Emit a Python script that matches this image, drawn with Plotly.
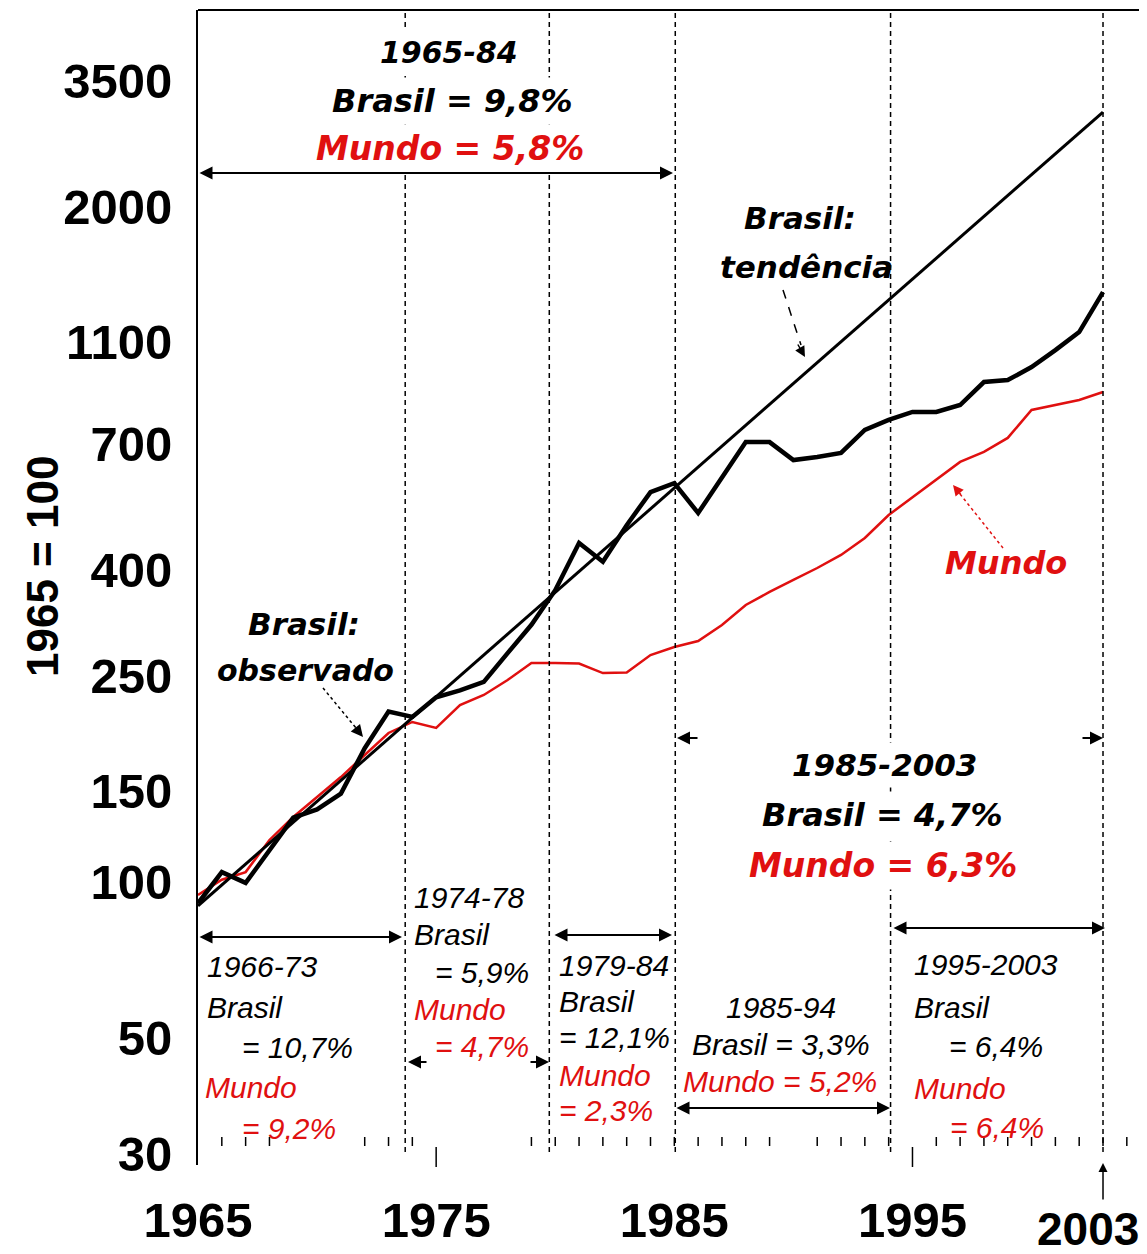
import plotly.graph_objects as go

# ---------------- data ----------------
years = list(range(1965, 2004))
brasil_obs = [91, 104.5, 99.6, 115, 133, 138, 148, 181, 213, 208,
              227, 234, 243, 276, 313, 365, 450, 414, 487, 564,
              587, 514, 600, 704, 704, 650, 659, 671, 743, 777,
              805, 805, 830, 919, 927, 982, 1059, 1147, 1370]
mundo = [94.4, 101, 104.5, 120.5, 133.4, 145.8, 159.3, 175.7, 193.7, 203.4,
         198.1, 219.3, 229.3, 245, 264.2, 264.2, 263.6, 252.7, 253.3, 273.7,
         283.7, 291.3, 312.8, 341.8, 362.2, 381.9, 402.7, 426.7, 460.2, 509.5,
         551.8, 595.2, 644.8, 674, 717.2, 811.8, 830.2, 848.8, 879.4]
trend_years = [1965, 2003]
trend_vals = [90, 3045]

y_ticks = [30, 50, 100, 150, 250, 400, 700, 1100, 2000, 3500]
y_tick_text = ["30", "50", "100", "150", "250", "400", "700", "1100", "2000", "3500"]
x_ticks = [1965, 1975, 1985, 1995]
x_tick_text = ["1965", "1975", "1985", "1995"]

period_bounds = [1973.7, 1979.75, 1985.04, 1994.08, 2003.0]

# ---------------- layout helpers (page pixel -> paper / year) ----------------
PAGE_W, PAGE_H = 1147, 1254
OFF = 8                      # default body margin of the html page
W, H = PAGE_W - OFF, PAGE_H - OFF
L_, R_, T_, B_ = 198, 1147, 10, 1165   # plot area in page pixels
PXYR = 23.816


def XP(p):
    return (p - L_) / (R_ - L_)


def YP(p):
    return (B_ - p) / (B_ - T_)


def YR(p):
    return 1965 + (p - L_) / PXYR


RED = "#e01010"
BIG = "DejaVu Sans"
SMALL = "Liberation Sans"
SM = 30

fig = go.Figure()
fig.add_trace(go.Scatter(x=years, y=mundo, mode="lines",
                         line=dict(color=RED, width=2.5), name="Mundo"))
fig.add_trace(go.Scatter(x=trend_years, y=trend_vals, mode="lines",
                         line=dict(color="black", width=3), name="Brasil: tendência"))
fig.add_trace(go.Scatter(x=years, y=brasil_obs, mode="lines",
                         line=dict(color="black", width=4.5), name="Brasil: observado"))

shapes = []
# top border
shapes.append(dict(type="line", xref="paper", yref="paper", x0=0, x1=1, y0=1, y1=1,
                   line=dict(color="black", width=2)))
# dashed period boundaries
for b in period_bounds:
    shapes.append(dict(type="line", xref="x", yref="paper", x0=b, x1=b,
                       y0=YP(1152), y1=1,
                       line=dict(color="black", width=1.5, dash="5px,4px")))
# minor year ticks
hidden = {1969, 1970, 1971, 1975, 1976, 1977, 1978, 1990, 1995}
for yr in range(1966, 2005):
    if yr in hidden:
        continue
    shapes.append(dict(type="line", xref="x", yref="paper", x0=yr, x1=yr,
                       y0=YP(1146), y1=YP(1137), line=dict(color="black", width=1.5)))
# major ticks
for yr in (1975, 1995):
    p = L_ + PXYR * (yr - 1965)
    shapes.append(dict(type="line", xref="paper", yref="paper", x0=XP(p), x1=XP(p),
                       y0=YP(1167), y1=YP(1147), line=dict(color="black", width=1.5)))
# dashed pointer lines
pointers = [((783, 290), (801, 345), "black", "dash"),
            ((323, 688), (356, 728), "black", "dot"),
            ((1003, 548), (960, 494), RED, "dot")]
for (x0, y0), (x1, y1), c, d in pointers:
    shapes.append(dict(type="line", xref="paper", yref="paper",
                       x0=XP(x0), y0=YP(y0), x1=XP(x1), y1=YP(y1),
                       line=dict(color=c, width=1.5, dash=d)))

ann = []


def text(t, x, y, size, color="black", family=BIG, xanchor="center", bold=True, italic=True,
         angle=0, bg=None):
    s = t
    if italic:
        s = "<i>" + s + "</i>"
    if bold:
        s = "<b>" + s + "</b>"
    d = dict(text=s, xref="paper", yref="paper", x=XP(x), y=YP(y),
             xanchor=xanchor, yanchor="middle", showarrow=False, textangle=angle,
             font=dict(family=family, size=size, color=color))
    if bg:
        d["bgcolor"] = bg
        d["borderpad"] = 4
    ann.append(d)


def darrow(x0, x1, y, w=2):
    ann.append(dict(text="", xref="x", yref="paper", x=YR(x1), y=YP(y),
                    axref="x", ayref="pixel", ax=YR(x0), ay=0,
                    showarrow=True, arrowside="end+start", arrowhead=2, startarrowhead=2,
                    arrowsize=1.3, startarrowsize=1.3, arrowwidth=w, arrowcolor="black"))


def head(xh, yh, xt, yt, color="black", size=1.3, w=2):
    ann.append(dict(text="", xref="paper", yref="paper", x=XP(xh), y=YP(yh),
                    ax=xt - xh, ay=yt - yh, axref="pixel", ayref="pixel",
                    showarrow=True, arrowhead=2, arrowsize=size, arrowwidth=w,
                    arrowcolor=color))


# top block 1965-84
text("1965-84", 449, 52, 30, bg="white")
text("Brasil = 9,8%", 452, 101, 32, bg="white")
text("Mundo = 5,8%", 450, 148, 33, RED, bg="white")
darrow(198, 673, 173)

# trend label
text("Brasil:", 800, 218, 31)
text("tendência", 806, 267, 31)
head(805, 357, 797, 343, "black", 1.4, 1.5)

# observed label
text("Brasil:", 304, 624, 31)
text("observado", 305, 670, 30)
head(363, 737, 354, 726, "black", 1.6, 1.5)

# Mundo label
text("Mundo", 1006, 563, 32, RED)
head(953, 485, 962, 496, RED, 1.4, 1.5)

# 1985-2003 block
text("1985-2003", 884, 765, 31, bg="white")
text("Brasil = 4,7%", 882, 815, 32, bg="white")
text("Mundo = 6,3%", 883, 865, 33, RED, bg="white")
head(677, 738, 699, 738)
head(1103, 738, 1081, 738)

# 1966-73 block
darrow(198, 402, 937)
text("1966-73", 205, 966, SM, family=SMALL, xanchor="left", bold=False)
text("Brasil", 205, 1007, SM, family=SMALL, xanchor="left", bold=False)
text("= 10,7%", 240, 1047, SM, family=SMALL, xanchor="left", bold=False)
text("Mundo", 203, 1087, SM, RED, family=SMALL, xanchor="left", bold=False)
text("= 9,2%", 240, 1128, SM, RED, family=SMALL, xanchor="left", bold=False)

# 1974-78 block
text("1974-78", 412, 897, SM, family=SMALL, xanchor="left", bold=False)
text("Brasil", 412, 934, SM, family=SMALL, xanchor="left", bold=False)
text("= 5,9%", 433, 972, SM, family=SMALL, xanchor="left", bold=False)
text("Mundo", 412, 1009, SM, RED, family=SMALL, xanchor="left", bold=False)
text("= 4,7%", 433, 1046, SM, RED, family=SMALL, xanchor="left", bold=False)
head(408, 1062, 428, 1062)
head(549, 1062, 529, 1062)

# 1979-84 block
darrow(553, 672, 935)
text("1979-84", 557, 965, SM, family=SMALL, xanchor="left", bold=False)
text("Brasil", 557, 1001, SM, family=SMALL, xanchor="left", bold=False)
text("= 12,1%", 557, 1037, SM, family=SMALL, xanchor="left", bold=False)
text("Mundo", 557, 1075, SM, RED, family=SMALL, xanchor="left", bold=False)
text("= 2,3%", 557, 1110, SM, RED, family=SMALL, xanchor="left", bold=False)

# 1985-94 block
text("1985-94", 781, 1007, SM, family=SMALL, bold=False)
text("Brasil = 3,3%", 781, 1044, SM, family=SMALL, bold=False)
text("Mundo = 5,2%", 780, 1081, SM, RED, family=SMALL, bold=False)
darrow(675, 890, 1108)

# 1995-2003 block
darrow(892, 1105, 928)
text("1995-2003", 912, 964, SM, family=SMALL, xanchor="left", bold=False)
text("Brasil", 912, 1007, SM, family=SMALL, xanchor="left", bold=False)
text("= 6,4%", 947, 1046, SM, family=SMALL, xanchor="left", bold=False)
text("Mundo", 912, 1088, SM, RED, family=SMALL, xanchor="left", bold=False)
text("= 6,4%", 948, 1127, SM, RED, family=SMALL, xanchor="left", bold=False)

# 2003 label with arrow
text("2003", 1088, 1229, 46, family=SMALL, italic=False)
ann.append(dict(text="", xref="x", yref="paper", x=2003, y=YP(1163),
                ax=0, ay=38, axref="pixel", ayref="pixel", showarrow=True,
                arrowhead=2, arrowsize=1.2, arrowwidth=1.5, arrowcolor="black"))

# y axis title
text("1965 = 100", 42, 567, 44, family=SMALL, italic=False, angle=-90)

fig.update_layout(
    width=W, height=H,
    margin=dict(l=L_ - OFF, r=PAGE_W - R_, t=T_ - OFF, b=PAGE_H - B_, pad=0),
    paper_bgcolor="white", plot_bgcolor="white",
    showlegend=False,
    shapes=shapes, annotations=ann,
    xaxis=dict(range=[1965, 1965 + (R_ - L_) / PXYR], showgrid=False, zeroline=False,
               showline=False, ticks="", tickvals=x_ticks, ticktext=x_tick_text,
               tickfont=dict(family=SMALL, size=49, color="black", weight="bold"),
               ticklabelstandoff=22),
    yaxis=dict(type="log", range=[(1920 - B_) / 519, (1920 - T_) / 519],
               showgrid=False, zeroline=False, showline=True, linecolor="black", linewidth=2,
               ticks="", tickvals=y_ticks, ticktext=y_tick_text,
               tickfont=dict(family=SMALL, size=49, color="black", weight="bold"),
               ticklabelstandoff=14),
)

fig.write_html("out.html")
